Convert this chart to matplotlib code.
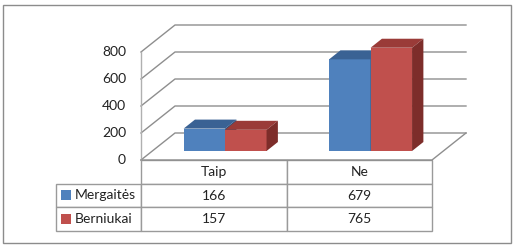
import numpy as np
import matplotlib
matplotlib.use('Agg')
import matplotlib.pyplot as plt
from matplotlib.patches import Rectangle, Polygon

# data
categories = ['Taip', 'Ne']
series = ['Mergaitės', 'Berniukai']
mergaites = [166, 679]
berniukai = [157, 765]
yticks = [0, 200, 400, 600, 800]

front_col = ['#4F81BD', '#C0504D']
top_col = ['#3A6294', '#9A3B38']
side_col = ['#2E4F7A', '#7D2D2A']
grid_col = '#8e8e8e'

plt.rcParams['font.family'] = ['Lato', 'DejaVu Sans']

W, H = 516, 247
fig = plt.figure(figsize=(W / 100, H / 100), dpi=100)
fig.patch.set_facecolor('white')

# outer frame
fig.patches.append(Rectangle((3 / W, 4 / H), 508 / W, 238 / H, transform=fig.transFigure,
                             fill=False, ec='#8c8c8c', lw=1))

ax = fig.add_axes([141 / W, (H - 160) / H, 291 / W, 108 / H])
ax.set_xlim(0, len(categories))
ax.set_ylim(0, yticks[-1])
ax.axis('off')

# depth of the 3d box in data units
dx = 34 / 291 * len(categories)
dy = 27 / 108 * yticks[-1]
xr = len(categories)

# walls and gridlines
for v in yticks:
    ax.plot([0, dx, xr + dx], [v, v + dy, v + dy], color=grid_col, lw=1, clip_on=False, zorder=1)
    ax.text(-15 / 291 * xr, v, str(v), ha='right', va='center', fontsize=10, color='#222222')
ax.plot([0, 0], [0, yticks[-1]], color='#b0b0b0', lw=1, clip_on=False, zorder=1)
ax.plot([0, xr, xr + dx], [0, 0, dy], color=grid_col, lw=1, clip_on=False, zorder=1)

# 3d bars
w = 0.285
values = [mergaites, berniukai]
for i in range(len(categories)):
    for j, vals in enumerate(values):
        v = vals[i]
        x0 = i + 0.5 - w + j * w + dx / 3
        b = dy / 3
        ddx, ddy = dx / 3, dy / 3
        z = 3 + i * 2 + j
        ax.add_patch(Rectangle((x0, b), w, v, fc=front_col[j], ec='none', clip_on=False, zorder=z))
        ax.add_patch(Polygon([(x0, b + v), (x0 + w, b + v), (x0 + w + ddx, b + v + ddy),
                              (x0 + ddx, b + v + ddy)], closed=True, fc=top_col[j], ec='none',
                             clip_on=False, zorder=z))
        ax.add_patch(Polygon([(x0 + w, b), (x0 + w, b + v), (x0 + w + ddx, b + v + ddy),
                              (x0 + w + ddx, b + ddy)], closed=True, fc=side_col[j], ec='none',
                             clip_on=False, zorder=z))

# data table under the chart
cell_text = [[''] + categories,
             [''] + [str(v) for v in mergaites],
             [''] + [str(v) for v in berniukai]]
tbl = ax.table(cellText=cell_text, cellLoc='center', colWidths=[85, 145.5, 145.5],
               bbox=[-85 / 291 * 1, -71 / 108, 376 / 291, 71 / 108])
tbl.auto_set_font_size(False)
tbl.set_fontsize(10)
for (r, c), cell in tbl.get_celld().items():
    cell.set_edgecolor('#9a9a9a')
    cell.set_linewidth(1)
    cell.get_text().set_color('#222222')
tbl[0, 0].visible_edges = ''

# row labels with legend keys
for k, name in enumerate(series):
    yc = -(23 + 24 * k + 12) / 108
    ax.add_patch(Rectangle((-80 / 291, yc - 4.5 / 108), 9.5 / 291, 9.5 / 108, transform=ax.transAxes,
                           fc=front_col[k], ec='none', clip_on=False, zorder=10))
    ax.text(-66 / 291, yc, name, transform=ax.transAxes, ha='left', va='center',
            fontsize=10, color='#222222', zorder=10)

fig.savefig('out.png', dpi=100)
